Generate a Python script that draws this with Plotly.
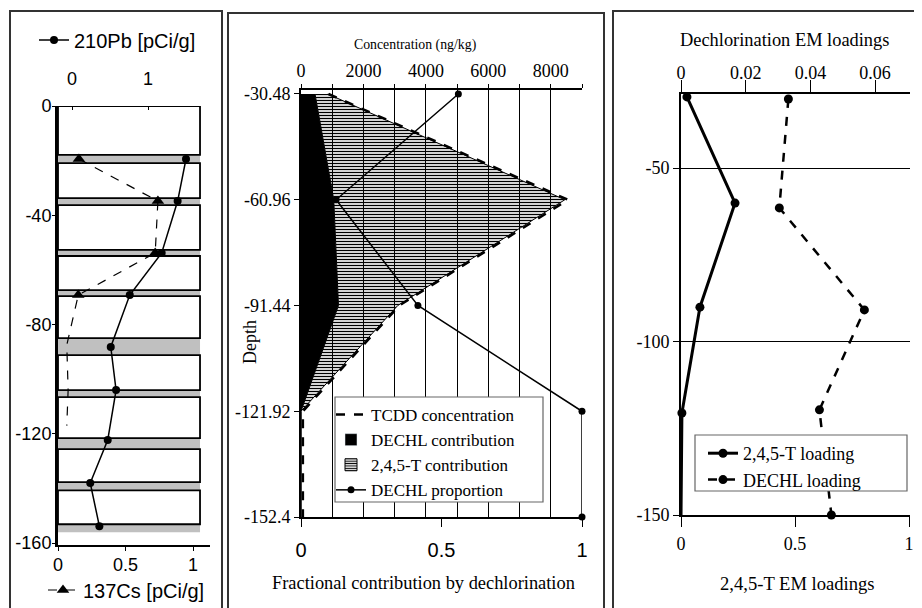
import plotly.graph_objects as go

# page body has an 8px margin: figure is drawn at (8, 8) in the window
OFF = 8
W, H = 922 - OFF, 608 - OFF
def fx(p): return (p - OFF) / W
def fy(p): return 1 - (p - OFF) / H

SERIF = "Liberation Serif, Times New Roman, serif"
SANS = "Liberation Sans, Arial, sans-serif"

# ---------------- Left panel data (radionuclides) ----------------
pb_depth = [-19.4, -34.8, -53.8, -69.2, -88.2, -104.0, -122.3, -138.0, -153.8]
pb210 = [1.50, 1.39, 1.18, 0.76, 0.51, 0.58, 0.47, 0.24, 0.36]
cs_depth = [-19.4, -34.8, -53.8, -69.2, -87.5, -104.0, -117.0]
cs137 = [0.155, 0.74, 0.72, 0.15, 0.065, 0.075, 0.065]
cs_marker_color = ["black", "black", "black", "black", "rgba(0,0,0,0)", "rgba(0,0,0,0)", "rgba(0,0,0,0)"]
band_top = [-17.9, -33.7, -52.7, -67.4, -85.0, -104.0, -121.6, -137.7, -153.1]
band_bot = [-20.9, -36.3, -54.9, -69.6, -91.2, -106.6, -125.6, -140.7, -156.0]
left_yticks = [0, -40, -80, -120, -160]

# ---------------- Middle panel data ----------------
mid_depth = [-30.48, -60.96, -91.44, -121.92, -152.4]
dechl_contrib = [450, 1050, 1200, 0, 0]
t245_contrib = [410, 7400, 1900, 0, 0]
tcdd = [880, 8550, 3150, 60, 60]
dechl_prop = [0.56, 0.125, 0.416, 1.0, 1.0]
conc_ticks = [0, 1000, 2000, 3000, 4000, 5000, 6000, 7000, 8000, 9000]
conc_labels = ["0", "", "2000", "", "4000", "", "6000", "", "8000", ""]

# ---------------- Right panel data ----------------
t245_depth = [-29.5, -60.1, -90.1, -120.6, -150.6]
t245_load = [0.026, 0.237, 0.083, 0.004, 0.0]
dechl_depth = [-30.1, -61.5, -90.9, -119.7, -150.0]
dechl_load = [0.0332, 0.0304, 0.0567, 0.0428, 0.0465]

HATCH = dict(shape="-", fgcolor="black", bgcolor="rgba(0,0,0,0)", size=3, solidity=0.45, fillmode="replace")

fig = go.Figure()

# Left traces
fig.add_trace(go.Scatter(x=pb210, y=pb_depth, xaxis="x2", yaxis="y", mode="lines+markers",
                         line=dict(color="black", width=1.5),
                         marker=dict(symbol="circle", size=8, color="black"),
                         name="210Pb [pCi/g]", legend="legend", cliponaxis=False))
fig.add_trace(go.Scatter(x=cs137, y=cs_depth, xaxis="x", yaxis="y", mode="lines+markers",
                         line=dict(color="black", width=1.2, dash="dash"),
                         marker=dict(symbol="triangle-up", size=11, color=cs_marker_color),
                         name="137Cs [pCi/g]", legend="legend2", cliponaxis=False))

# Middle traces
stack = [a + b for a, b in zip(dechl_contrib, t245_contrib)]
fig.add_trace(go.Scatter(x=dechl_contrib, y=mid_depth, xaxis="x4", yaxis="y3", mode="lines",
                         fill="tozerox", fillcolor="black", line=dict(color="black", width=1),
                         showlegend=False))
fig.add_trace(go.Scatter(x=stack, y=mid_depth, xaxis="x4", yaxis="y3", mode="lines",
                         fill="tonextx", fillcolor="rgba(0,0,0,0)", fillpattern=HATCH,
                         line=dict(color="black", width=1), showlegend=False))
fig.add_trace(go.Scatter(x=tcdd, y=mid_depth, xaxis="x4", yaxis="y3", mode="lines",
                         line=dict(color="black", width=2.5, dash="dash"),
                         name="TCDD concentration", legend="legend3", legendrank=1, cliponaxis=False))
# legend-only swatches for the two filled areas
fig.add_trace(go.Bar(x=[None], y=[None], xaxis="x4", yaxis="y3", marker=dict(color="black"),
                     name="DECHL contribution", legend="legend3", legendrank=2))
fig.add_trace(go.Bar(x=[None], y=[None], xaxis="x4", yaxis="y3",
                     marker=dict(color="white", line=dict(color="black", width=1), pattern=HATCH),
                     name="2,4,5-T contribution", legend="legend3", legendrank=3))
fig.add_trace(go.Scatter(x=dechl_prop, y=mid_depth, xaxis="x3", yaxis="y3", mode="lines+markers",
                         line=dict(color="black", width=1.5), marker=dict(size=7, color="black"),
                         name="DECHL proportion", legend="legend3", legendrank=4, cliponaxis=False))

# Right traces
fig.add_trace(go.Scatter(x=t245_load, y=t245_depth, xaxis="x5", yaxis="y5", mode="lines+markers",
                         line=dict(color="black", width=3), marker=dict(size=9, color="black"),
                         name="2,4,5-T loading", legend="legend4", cliponaxis=False))
fig.add_trace(go.Scatter(x=dechl_load, y=dechl_depth, xaxis="x6", yaxis="y5", mode="lines+markers",
                         line=dict(color="black", width=2.5, dash="dash"), marker=dict(size=9, color="black"),
                         name="DECHL loading", legend="legend4", cliponaxis=False))

shapes = []
# Left panel sample bands and boxes
XR = 1.052
for t, b in zip(band_top, band_bot):
    shapes.append(dict(type="rect", xref="x", yref="y", x0=0, x1=XR, y0=b, y1=t,
                       fillcolor="#c0c0c0", line=dict(width=0), layer="below"))
edges_top = [0] + band_bot[:-1]
edges_bot = band_top
for t, b in zip(edges_top, edges_bot):
    shapes.append(dict(type="rect", xref="x", yref="y", x0=0, x1=XR, y0=b, y1=t,
                       fillcolor="white", line=dict(color="black", width=1.8), layer="below"))

# Panel borders
BC = "#333333"
for x0, x1, y0 in [(10, 222, 11), (228, 604, 13), (613, 930, 11)]:
    shapes.append(dict(type="rect", xref="paper", yref="paper", x0=fx(x0), x1=fx(x1),
                       y0=fy(615), y1=fy(y0), line=dict(color=BC, width=2), fillcolor="rgba(0,0,0,0)"))
# Legend frames
for x0, x1, y0, y1 in [(335, 543, 397, 502), (695, 907, 435, 491)]:
    shapes.append(dict(type="rect", xref="paper", yref="paper", x0=fx(x0), x1=fx(x1),
                       y0=fy(y1), y1=fy(y0), line=dict(color="#666666", width=1.2),
                       fillcolor="white", layer="above"))

ax_common = dict(showgrid=False, zeroline=False, linecolor="black", tickcolor="black")

fig.update_layout(
    width=W, height=H, margin=dict(l=0, r=0, t=0, b=0, autoexpand=False),
    paper_bgcolor="white", plot_bgcolor="white", showlegend=True, barmode="overlay",
    shapes=shapes,
    # Left
    xaxis=dict(domain=[fx(58), fx(210)], range=[0, 152 / 135], anchor="y", side="bottom",
               tickvals=[0, 0.5, 1], ticktext=["0", "0.5", "1"], showline=True, linewidth=2,
               ticks="outside", ticklen=4, ticklabelstandoff=-2,
               tickfont=dict(family=SANS, size=18, color="black"), **ax_common),
    xaxis2=dict(domain=[fx(58), fx(210)], range=[(58 - 72) / 76, (210 - 72) / 76], anchor="y",
                overlaying="x", side="top", tickvals=[0, 1], ticktext=["0", "1"], showline=False,
                ticks="inside", ticklen=4, ticklabelstandoff=16,
                tickfont=dict(family=SANS, size=18, color="black"), **ax_common),
    yaxis=dict(domain=[fy(545), fy(106)], range=[-160.7, 0], anchor="x",
               tickvals=left_yticks, ticktext=[str(v) for v in left_yticks], showline=True, linewidth=3,
               ticks="outside", ticklen=3, ticklabelstandoff=-3,
               tickfont=dict(family=SANS, size=18, color="black"), **ax_common),
    # Middle
    xaxis3=dict(domain=[fx(301), fx(582)], range=[0, 1], anchor="y3", side="bottom",
                tickvals=[0, 0.5, 1], ticktext=["0", "0.5", "1"], showline=True, linewidth=2,
                ticks="outside", ticklen=8, ticklabelstandoff=6,
                tickfont=dict(family=SANS, size=20, color="black"), **ax_common),
    xaxis4=dict(domain=[fx(301), fx(582)], range=[0, 9000], anchor="y3", overlaying="x3", side="top",
                tickvals=conc_ticks, ticktext=conc_labels, showline=True, linewidth=2,
                ticks="outside", ticklen=4, tickfont=dict(family=SERIF, size=18, color="black"),
                zeroline=False, linecolor="black", tickcolor="black",
                showgrid=True, gridcolor="black", gridwidth=1),
    yaxis3=dict(domain=[fy(517), fy(90)], range=[-152.4, -29.33], anchor="x3",
                tickvals=mid_depth, ticktext=[f"{v:g}" for v in mid_depth], showline=True, linewidth=2,
                ticks="outside", ticklen=5, tickfont=dict(family=SERIF, size=18, color="black"),
                **ax_common),
    # Right
    xaxis5=dict(domain=[fx(681), fx(910)], range=[0, 229 / 228], anchor="y5", side="bottom",
                tickvals=[0, 0.5, 1], ticktext=["0", "0.5", "1"], showline=True, linewidth=2,
                ticks="outside", ticklen=10, ticklabelstandoff=1,
                tickfont=dict(family=SERIF, size=18, color="black"), **ax_common),
    xaxis6=dict(domain=[fx(681), fx(910)], range=[0, 0.0708], anchor="y5", overlaying="x5", side="top",
                tickvals=[0, 0.02, 0.04, 0.06], ticktext=["0", "0.02", "0.04", "0.06"], showline=True,
                linewidth=2, ticks="outside", ticklen=12, ticklabelstandoff=-6,
                tickfont=dict(family=SERIF, size=18, color="black"), **ax_common),
    yaxis5=dict(domain=[fy(515), fy(94)], range=[-150, -28.67], anchor="x5",
                tickvals=[-50, -100, -150], ticktext=["-50", "-100", "-150"], showline=True, linewidth=2,
                ticks="outside", ticklen=6, tickfont=dict(family=SERIF, size=18, color="black"),
                zeroline=False, linecolor="black", tickcolor="black",
                showgrid=True, gridcolor="black", gridwidth=1),
    legend=dict(x=fx(34), y=fy(40), xanchor="left", yanchor="middle", bgcolor="rgba(0,0,0,0)",
                font=dict(family=SANS, size=20, color="black")),
    legend2=dict(x=fx(43), y=fy(590), xanchor="left", yanchor="middle", bgcolor="rgba(0,0,0,0)",
                 font=dict(family=SANS, size=20, color="black")),
    legend3=dict(x=fx(331), y=fy(397), xanchor="left", yanchor="top", bgcolor="rgba(0,0,0,0)",
                 borderwidth=0, tracegroupgap=0, traceorder="normal",
                 font=dict(family=SERIF, size=17, color="black")),
    legend4=dict(x=fx(703), y=fy(435), xanchor="left", yanchor="top", bgcolor="rgba(0,0,0,0)",
                 borderwidth=0, traceorder="normal",
                 font=dict(family=SERIF, size=18, color="black")),
    annotations=[
        dict(text="Concentration (ng/kg)", x=fx(415), y=fy(45), xref="paper", yref="paper",
             showarrow=False, xanchor="center", yanchor="middle", font=dict(family=SERIF, size=13.8, color="black")),
        dict(text="Fractional contribution by dechlorination", x=fx(423), y=fy(583), xref="paper", yref="paper",
             showarrow=False, xanchor="center", yanchor="middle", font=dict(family=SERIF, size=18.4, color="black")),
        dict(text="Depth", x=fx(250), y=fy(342), xref="paper", yref="paper", textangle=-90,
             showarrow=False, xanchor="center", yanchor="middle", font=dict(family=SERIF, size=18, color="black")),
        dict(text="Dechlorination EM loadings", x=fx(784), y=fy(40), xref="paper", yref="paper",
             showarrow=False, xanchor="center", yanchor="middle", font=dict(family=SERIF, size=18.4, color="black")),
        dict(text="2,4,5-T EM loadings", x=fx(797), y=fy(583), xref="paper", yref="paper",
             showarrow=False, xanchor="center", yanchor="middle", font=dict(family=SERIF, size=18.6, color="black")),
    ],
)

fig.write_html("out.html")
